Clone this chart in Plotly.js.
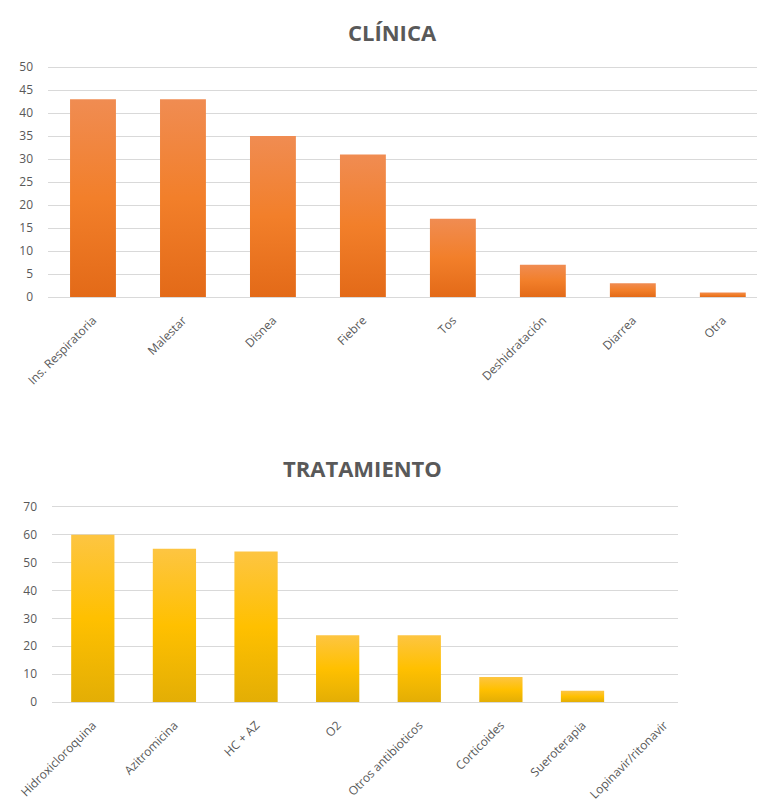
<!DOCTYPE html>
<html>
<head>
<meta charset="utf-8">
<script src="https://cdn.plot.ly/plotly-3.0.1.min.js"></script>
<style>
  html, body { margin: 0; padding: 0; background: #ffffff; }
  #chart { width: 757px; height: 803px; }
</style>
</head>
<body>
<div id="chart"></div>
<script>
// Clinical presentation
const clinicaCategories = ["Ins. Respiratoria", "Malestar", "Disnea", "Fiebre", "Tos", "Deshidratación", "Diarrea", "Otra"];
const clinicaValues = [43, 43, 35, 31, 17, 7, 3, 1];
const clinicaTicks = [0, 5, 10, 15, 20, 25, 30, 35, 40, 45, 50];

// Treatment received
const tratamientoCategories = ["Hidroxicloroquina", "Azitromicina", "HC + AZ", "O2", "Otros antibioticos", "Corticoides", "Sueroterapia", "Lopinavir/ritonavir"];
const tratamientoValues = [60, 55, 54, 24, 24, 9, 4, 0];
const tratamientoTicks = [0, 10, 20, 30, 40, 50, 60, 70];

const FONT = "Open Sans, Liberation Sans, sans-serif";
const GREY = "#595959";
const GRID = "#d9d9d9";

const traces = [
  {
    type: "bar",
    x: clinicaCategories,
    y: clinicaValues,
    xaxis: "x",
    yaxis: "y",
    width: 0.51,
    marker: { color: "#ED7D31" },
    hoverinfo: "x+y"
  },
  {
    type: "bar",
    x: tratamientoCategories,
    y: tratamientoValues,
    xaxis: "x2",
    yaxis: "y2",
    width: 0.53,
    marker: { color: "#FFC000" },
    hoverinfo: "x+y"
  }
];

function yAxis(extra) {
  return Object.assign({
    color: GREY,
    showgrid: true,
    gridcolor: GRID,
    gridwidth: 1,
    zeroline: true,
    zerolinecolor: GRID,
    zerolinewidth: 1,
    showline: false,
    ticks: "",
    ticklabelstandoff: 14,
    tickfont: { family: FONT, size: 12, color: GREY },
    fixedrange: true
  }, extra);
}

function xAxis(extra) {
  return Object.assign({
    color: GREY,
    type: "category",
    showgrid: false,
    zeroline: false,
    showline: false,
    ticks: "",
    tickangle: -45,
    ticklabelstandoff: 13,
    tickfont: { family: FONT, size: 12, color: GREY },
    fixedrange: true
  }, extra);
}

// Upper chart: 0 sits at y=297px, 50 at y=67px (4.6 px per unit); range runs to 51
// so the 50 gridline stays inside the plot area.
// Lower chart: 0 at y=702px, 70 at y=507px; range runs to 71 for the same reason.
const layout = {
  width: 757,
  height: 803,
  margin: { l: 0, r: 0, t: 0, b: 0 },
  paper_bgcolor: "#ffffff",
  plot_bgcolor: "#ffffff",
  showlegend: false,
  xaxis: xAxis({
    domain: [48 / 757, 1],
    range: [-0.5, 7.38],
    anchor: "y"
  }),
  yaxis: yAxis({
    domain: [1 - 297 / 803, 1 - 62.4 / 803],
    range: [0, 51],
    tickvals: clinicaTicks,
    anchor: "x"
  }),
  xaxis2: xAxis({
    domain: [52 / 757, 678 / 757],
    range: [-0.5, 7.17],
    anchor: "y2"
  }),
  yaxis2: yAxis({
    domain: [1 - 702 / 803, 1 - 504.2 / 803],
    range: [0, 71],
    tickvals: tratamientoTicks,
    anchor: "x2"
  }),
  annotations: [
    {
      text: "<b>CLÍNICA</b>",
      xref: "paper", yref: "paper",
      x: 392 / 757, y: 1 - 32 / 803,
      xanchor: "center", yanchor: "middle",
      showarrow: false,
      font: { family: FONT, size: 22, color: GREY }
    },
    {
      text: "<b>TRATAMIENTO</b>",
      xref: "paper", yref: "paper",
      x: 362 / 757, y: 1 - 468 / 803,
      xanchor: "center", yanchor: "middle",
      showarrow: false,
      font: { family: FONT, size: 22, color: GREY }
    }
  ]
};

// Vertical shading for the bar fills (light top, saturated middle, darker base)
function addGradients(gd) {
  const svg = gd.querySelector("svg.main-svg");
  const ns = "http://www.w3.org/2000/svg";
  let defs = svg.querySelector("defs");
  if (!defs) { defs = document.createElementNS(ns, "defs"); svg.insertBefore(defs, svg.firstChild); }
  const specs = [
    { id: "fillOrange", stops: [["0%", "#F08C52"], ["50%", "#F27F2A"], ["100%", "#E36A18"]] },
    { id: "fillYellow", stops: [["0%", "#FDC542"], ["50%", "#FFC000"], ["100%", "#E3AE05"]] }
  ];
  specs.forEach(s => {
    const g = document.createElementNS(ns, "linearGradient");
    g.setAttribute("id", s.id);
    g.setAttribute("x1", "0"); g.setAttribute("y1", "0");
    g.setAttribute("x2", "0"); g.setAttribute("y2", "1");
    s.stops.forEach(st => {
      const stop = document.createElementNS(ns, "stop");
      stop.setAttribute("offset", st[0]);
      stop.setAttribute("stop-color", st[1]);
      g.appendChild(stop);
    });
    defs.appendChild(g);
  });
  const barTraces = gd.querySelectorAll(".barlayer .trace");
  barTraces.forEach((t, i) => {
    const id = i === 0 ? "fillOrange" : "fillYellow";
    t.querySelectorAll(".point path").forEach(p => {
      p.style.fill = "url(#" + id + ")";
    });
  });
}

const gd = document.getElementById("chart");
Plotly.newPlot(gd, traces, layout, { displayModeBar: false, staticPlot: true }).then(addGradients);
</script>
</body>
</html>
